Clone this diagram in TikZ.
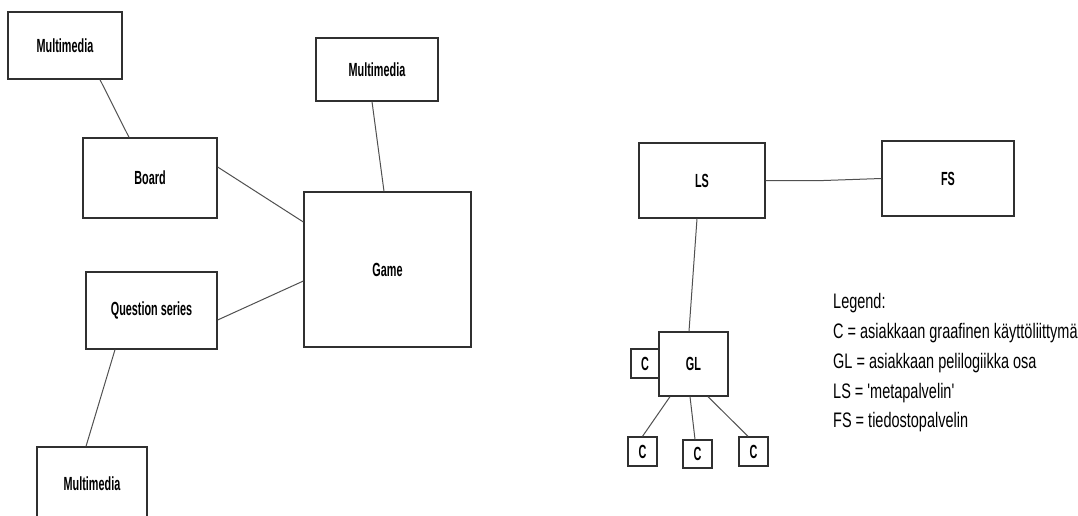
\documentclass[tikz,border=0pt]{standalone}
\usepackage{fontspec}
\newfontfamily\boxfont[FakeStretch=0.57]{Liberation Sans Bold}
\newfontfamily\legfont[FakeStretch=0.69]{Liberation Sans}
\definecolor{boxline}{HTML}{303030}
\definecolor{conline}{HTML}{505050}
\tikzset{
  box/.style={draw=boxline, line width=1.3pt, fill=white, inner sep=0pt,
    font=\boxfont\fontsize{19}{21}\selectfont},
  conn/.style={draw=conline, line width=1pt},
  leg/.style={anchor=west, inner sep=0pt, font=\legfont\fontsize{21}{24}\selectfont}
}
\begin{document}
\begin{tikzpicture}[x=1pt,y=-1pt]
\useasboundingbox (0,0) rectangle (1078,516);
\clip (0,0) rectangle (1078,516);
\fill[white] (0,0) rectangle (1078,516);
% left diagram
\node[box, minimum width=114pt, minimum height=67pt] (mm1) at (65,45.5) {Multimedia};
\node[box, minimum width=134pt, minimum height=80pt] (board) at (150,178) {Board};
\node[box, minimum width=122pt, minimum height=63pt] (mm2) at (377,69.5) {Multimedia};
\node[box, minimum width=167pt, minimum height=155pt] (game) at (387.5,269.5) {Game};
\node[box, minimum width=131pt, minimum height=77pt] (qs) at (151.5,310.5) {Question series};
\node[box, minimum width=110pt, minimum height=73pt] (mm3) at (92,483.5) {Multimedia};
\draw[conn] ([xshift=35pt]mm1.south) -- ([xshift=-21pt]board.north);
\draw[conn] ([yshift=11pt]board.east) -- ([yshift=47.5pt]game.west);
\draw[conn] ([xshift=-5pt]mm2.south) -- ([xshift=-3.5pt]game.north);
\draw[conn] ([yshift=-9.5pt]qs.east) -- ([yshift=-11.5pt]game.west);
\draw[conn] ([xshift=-36.5pt]qs.south) -- ([xshift=-6pt]mm3.north);
% right diagram
\node[box, minimum width=126pt, minimum height=75pt] (ls) at (702,180.5) {LS};
\node[box, minimum width=132pt, minimum height=75pt] (fs) at (948,178.5) {FS};
\node[box, minimum width=69pt, minimum height=64pt] (gl) at (693.5,364) {GL};
\node[box, minimum width=28pt, minimum height=29pt] (cl) at (645,363.5) {C};
\node[box, minimum width=29pt, minimum height=29pt] (c1) at (642.5,451.5) {C};
\node[box, minimum width=29pt, minimum height=28pt] (c2) at (697.5,454) {C};
\node[box, minimum width=29pt, minimum height=29pt] (c3) at (753.5,451.5) {C};
\draw[conn] (ls.east) -- ++(58pt,0) -- (fs.west);
\draw[conn] ([xshift=-5pt]ls.south) -- ([xshift=-4.5pt]gl.north);
\draw[conn] ([xshift=-23.5pt]gl.south) -- (c1.north);
\draw[conn] ([xshift=-3.5pt]gl.south) -- ([xshift=-2.5pt]c2.north);
\draw[conn] ([xshift=14.5pt]gl.south) -- ([xshift=-5.5pt]c3.north);
% legend
\node[leg] (l0) at (833,303) {Legend:};
\node[leg] (l1) at (833,333) {C = asiakkaan graafinen käyttöliittymä};
\node[leg] (l2) at (833,363) {GL = asiakkaan pelilogiikka osa};
\node[leg] (l3) at (833,393) {LS = 'metapalvelin'};
\node[leg] (l4) at (833,422) {FS = tiedostopalvelin};
\end{tikzpicture}
\end{document}
